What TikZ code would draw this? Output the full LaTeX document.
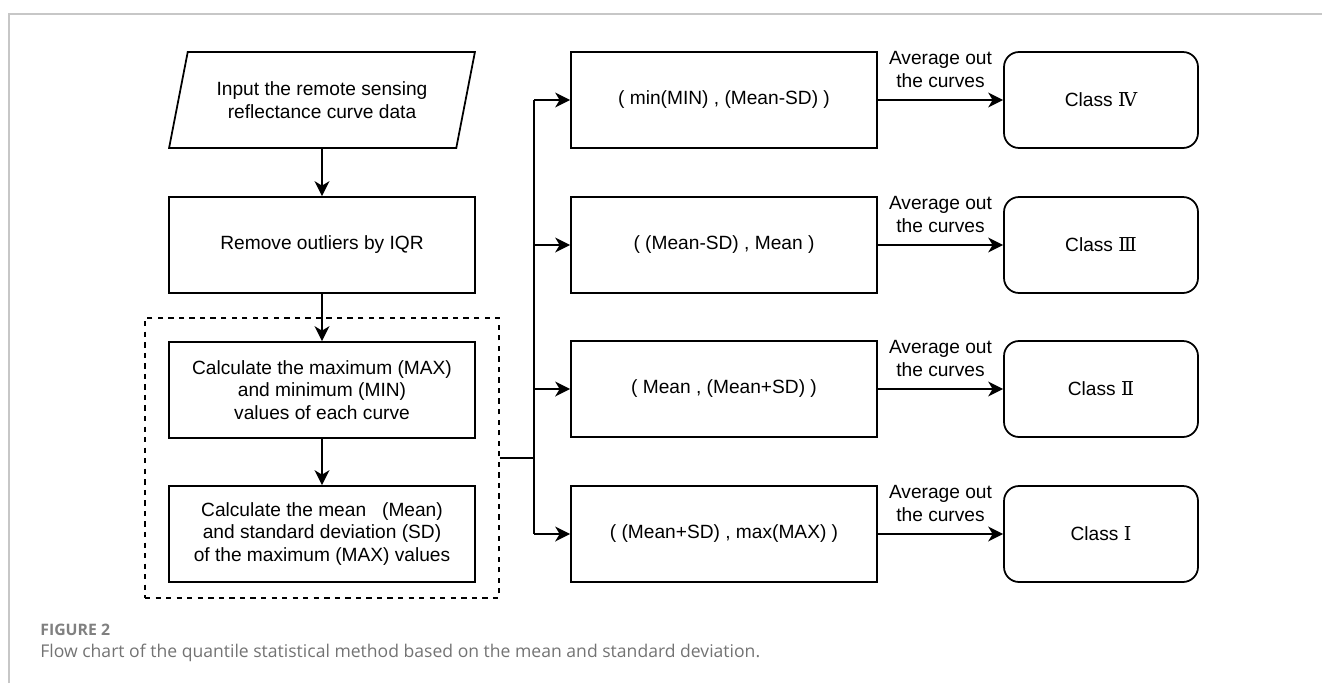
\documentclass[tikz,border=0pt]{standalone}
\usepackage{fontspec}
\setmainfont{Liberation Sans}
\newfontfamily\capfont{Open Sans}
\newfontfamily\numfont{DejaVu Serif}
\usetikzlibrary{shapes.geometric,arrows.meta,calc}
\tikzset{
  base/.style={draw,line width=1pt,align=center,font=\fontsize{10.9}{13}\selectfont,minimum height=1.92cm,inner sep=2pt},
  stepbox/.style={base,rectangle,minimum width=6.12cm},
  iobox/.style={base,trapezium,trapezium left angle=71,trapezium right angle=109,minimum width=6.12cm,trapezium stretches=true},
  classbox/.style={base,rectangle,rounded corners=0.3cm,minimum width=3.88cm},
  grpbox/.style={draw,dashed,line width=0.8pt,minimum width=7.08cm,minimum height=5.6cm},
  arr/.style={-{Stealth[length=0.3cm,width=0.3cm,inset=0.09cm]},line width=0.9pt},
  note/.style={font=\fontsize{10.9}{13}\selectfont,align=center,inner sep=1pt},
  capno/.style={font=\capfont\bfseries\fontsize{9}{11}\selectfont,text=black!50,anchor=west,inner sep=0pt},
  captext/.style={font=\capfont\fontsize{10}{12}\selectfont,text=black!55,anchor=west,inner sep=0pt}
}

\begin{document}
\begin{tikzpicture}[x=0.02cm,y=-0.02cm]
  \useasboundingbox (0,0) rectangle (1322,683);
  \draw [black!22, line width=0.6pt] (9,683) -- (9,14) -- (1322,14);

  % left column
  \node [grpbox] (grp) at (322,458) {};
  \node [iobox] (input) at (322,100) {Input the remote sensing\\reflectance curve data};
  \node [stepbox] (iqr) at (322,245) {Remove outliers by IQR};
  \node [stepbox] (maxmin) at (322,390) {Calculate the maximum (MAX)\\and minimum (MIN)\\values of each curve};
  \node [stepbox] (meansd) at (322,534) {Calculate the mean \ \ (Mean)\\and standard deviation (SD)\\of the maximum (MAX) values};

  % intervals
  \node [stepbox] (r4) at (724,100) {( min(MIN) , (Mean-SD) )};
  \node [stepbox] (r3) at (724,245) {( (Mean-SD) , Mean )};
  \node [stepbox] (r2) at (724,389) {( Mean , (Mean+SD) )};
  \node [stepbox] (r1) at (724,534) {( (Mean+SD) , max(MAX) )};

  % classes
  \node [classbox] (c4) at (1101,100) {Class {\numfont Ⅳ}};
  \node [classbox] (c3) at (1101,245) {Class {\numfont Ⅲ}};
  \node [classbox] (c2) at (1101,389) {Class {\numfont Ⅱ}};
  \node [classbox] (c1) at (1101,534) {Class {\numfont Ⅰ}};

  \coordinate (split) at (534,458);

  \draw [arr] (input) -- (iqr);
  \draw [arr] (iqr) -- (maxmin);
  \draw [arr] (maxmin) -- (meansd);
  \draw [line width=0.9pt] (grp.east) -- (split);
  \draw [line width=0.9pt] (split |- r4.west) -- (split |- r1.west);
  \foreach \k in {1,...,4} {
    \draw [arr] (split |- r\k.west) -- (r\k.west);
    \draw [arr] (r\k) -- node [note, above, yshift=5.5pt] {Average out\\the curves} (c\k);
  }

  % caption
  \node [capno] (figno) at (40,630) {FIGURE 2};
  \node [captext] (caption) at (40,653) {Flow chart of the quantile statistical method based on the mean and standard deviation.};
\end{tikzpicture}
\end{document}
